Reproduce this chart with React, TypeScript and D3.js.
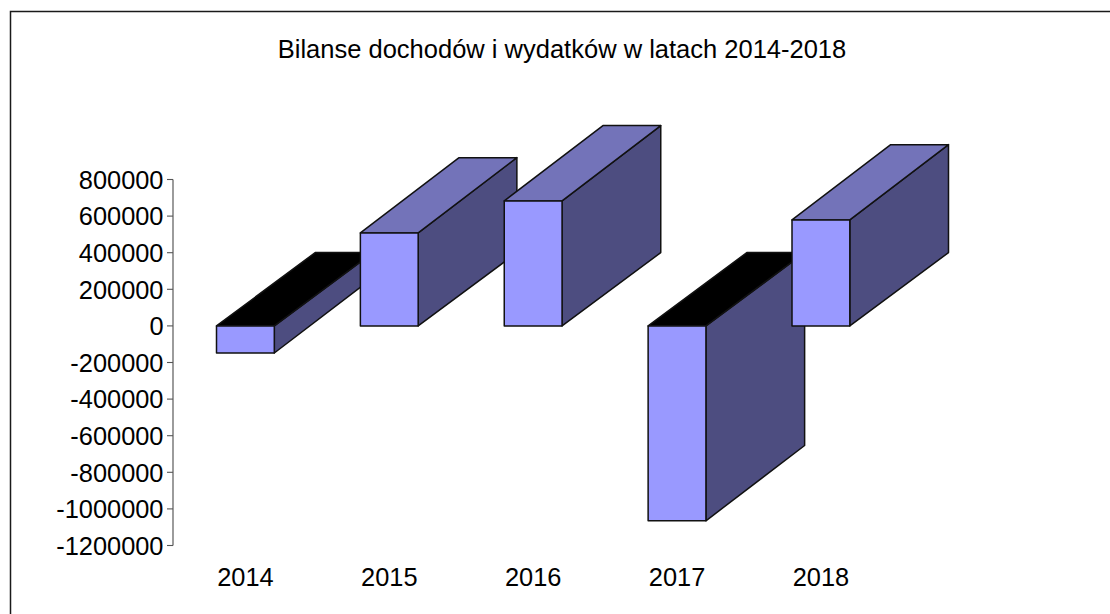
import React from "react";
import * as d3 from "d3";

const categories = ["2014", "2015", "2016", "2017", "2018"];
const values = [-148000, 508000, 683000, -1065000, 579000];
const yTicks = [800000, 600000, 400000, 200000, 0, -200000, -400000, -600000, -800000, -1000000, -1200000];
const title = "Bilanse dochodów i wydatków w latach 2014-2018";

const FONT = '"Liberation Sans", Arial, sans-serif';
const DX = 98.7;
const DY_END = -75.3;
const DY_BASE = -73.3;
const BAR_W = 57.8;

const y = d3.scaleLinear().domain([-1200000, 800000]).range([545.5, 179.5]);
const x = d3.scalePoint<string>().domain(categories).range([216.5, 792]);
const line = d3.line();

export default function App() {
  const zero = y(0);
  return (
    <svg width={1110} height={614} style={{ position: "absolute", left: 0, top: 0, background: "#fff" }}>
      <path d="M10.5,614 V11.5 H1110" fill="none" stroke="#1a1a1a" strokeWidth={1.5} />
      <text x={562} y={58.3} textAnchor="middle" fontFamily={FONT} fontSize={25.5} fill="#000">{title}</text>

      <line x1={173} x2={173} y1={y(800000)} y2={y(-1200000)} stroke="#666" strokeWidth={1.3} />
      {yTicks.map((t) => (
        <g key={t}>
          <line x1={167} x2={173} y1={y(t)} y2={y(t)} stroke="#555" strokeWidth={1.1} />
          <text x={163.5} y={y(t) + 9.3} textAnchor="end" fontFamily={FONT} fontSize={25.4} fill="#000">{t}</text>
        </g>
      ))}

      {categories.map((c, i) => {
        const x0 = x(c)!;
        const x1 = x0 + BAR_W;
        const v = y(values[i]);
        const neg = values[i] < 0;
        const top = Math.min(v, zero);
        const bot = Math.max(v, zero);
        const topDy = neg ? DY_BASE : DY_END;
        const botDy = neg ? DY_END : DY_BASE;
        const side = line([[x1, top], [x1 + DX, top + topDy], [x1 + DX, bot + botDy], [x1, bot]])! + "Z";
        const cap = line([[x0, top], [x0 + DX, top + topDy], [x1 + DX, top + topDy], [x1, top]])! + "Z";
        return (
          <g key={c} stroke="#111" strokeWidth={1.5} strokeLinejoin="round">
            <path d={side} fill="#4d4d80" />
            <path d={cap} fill={neg ? "#000" : "#7373b9"} />
            <rect x={x0} y={top} width={BAR_W} height={bot - top} fill="#9999ff" />
          </g>
        );
      })}

      {categories.map((c) => (
        <text key={c} x={x(c)! + BAR_W / 2} y={585.7} textAnchor="middle" fontFamily={FONT} fontSize={25.4} fill="#000">{c}</text>
      ))}
    </svg>
  );
}
